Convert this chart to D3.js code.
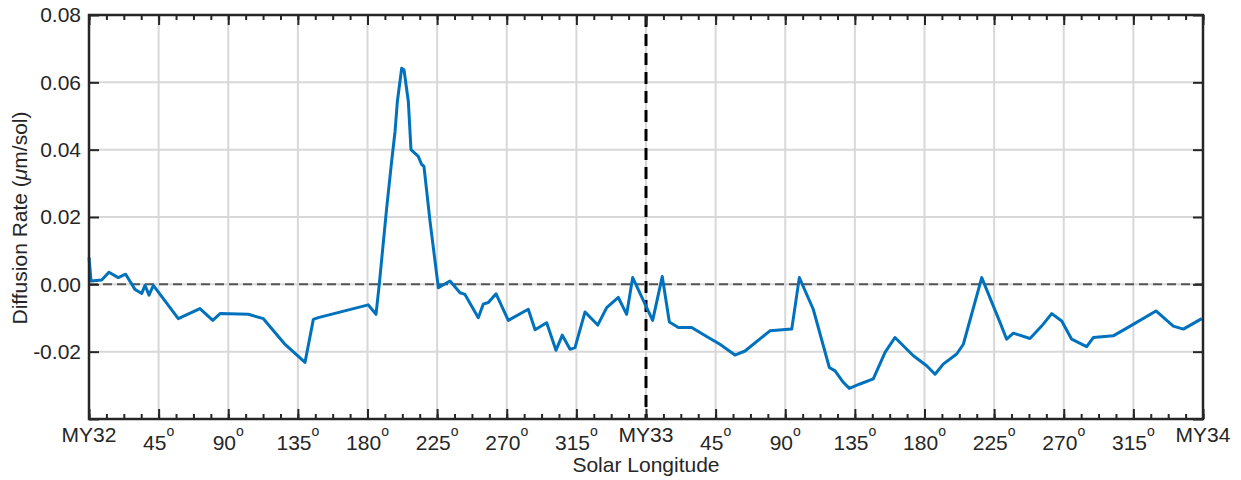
<!DOCTYPE html>
<html>
<head>
<meta charset="utf-8">
<script src="https://cdn.jsdelivr.net/npm/d3@7"></script>
<style>
body { margin: 0; background: #fff; }
text { font-family: "Liberation Sans", Arial, Helvetica, sans-serif; fill: #262626; }
</style>
</head>
<body>
<svg id="chart" width="1241" height="480"></svg>
<script>
// solar longitude, counted on from MY32 (0) through MY33 (360) to MY34 (720)
var ls = [0, 1.3, 8.2, 12.9, 18.9, 23.7, 29.7, 34.1, 36.2, 38.8, 41.6, 57.7, 71.7, 80.0, 84.7,
  103.0, 112.7, 126.2, 139.6, 145.0, 148.2, 180.5, 185.5, 187.6, 192.4, 195.6, 197.8, 199.3,
  202.1, 203.6, 206.4, 208.1, 212.8, 215.0, 216.5, 220.4, 225.8, 233.3, 239.8, 243.0, 251.6,
  254.8, 258.1, 263.1, 271.0, 283.9, 288.3, 295.8, 301.8, 305.9, 310.9, 314.1, 320.6, 328.8,
  334.6, 342.1, 347.5, 351.4, 364.3, 370.5, 375.1, 380.9, 389.5, 399.2, 407.8, 417.5, 424.0,
  440.1, 454.2, 459.1, 468.1, 478.5, 482.2, 487.5, 491.4, 498.3, 506.9, 514.5, 520.9, 532.8,
  541.4, 546.8, 552.1, 560.8, 565.1, 577.0, 588.8, 593.1, 597.4, 608.2, 615.7, 622.2, 628.7,
  635.1, 644.8, 649.1, 662.0, 674.9, 689.6, 700.8, 707.3, 712.7, 719.2];
// diffusion rate (um/sol)
var rate = [0.0080, 0.0010, 0.0013, 0.0036, 0.0020, 0.0030, -0.0015, -0.0027, -0.0003, -0.0032,
  -0.0003, -0.0102, -0.0072, -0.0107, -0.0087, -0.0089, -0.0102, -0.0176, -0.0232, -0.0104,
  -0.0099, -0.0061, -0.0089, 0.0000, 0.0227, 0.0365, 0.0454, 0.0543, 0.0642, 0.0637, 0.0543,
  0.0400, 0.0380, 0.0356, 0.0350, 0.0188, -0.0010, 0.0010, -0.0025, -0.0030, -0.0099, -0.0059,
  -0.0054, -0.0028, -0.0107, -0.0074, -0.0135, -0.0114, -0.0196, -0.0151, -0.0193, -0.0188,
  -0.0082, -0.0121, -0.0069, -0.0039, -0.0089, 0.0020, -0.0107, 0.0023, -0.0112, -0.0128,
  -0.0128, -0.0155, -0.0178, -0.0210, -0.0198, -0.0138, -0.0133, 0.0020, -0.0074, -0.0247,
  -0.0257, -0.0291, -0.0309, -0.0296, -0.0281, -0.0202, -0.0158, -0.0212, -0.0242, -0.0267,
  -0.0237, -0.0207, -0.0178, 0.0020, -0.0113, -0.0163, -0.0145, -0.0161, -0.0124, -0.0087,
  -0.0109, -0.0163, -0.0185, -0.0158, -0.0153, -0.0119, -0.0079, -0.0124, -0.0133, -0.0119,
  -0.0102];
var xTicks = [0, 45, 90, 135, 180, 225, 270, 315, 360, 405, 450, 495, 540, 585, 630, 675, 720];
var xMinor = d3.range(0, 721, 11.25);
var yearNames = ["MY32", "MY33", "MY34"];
var yTicks = [-0.04, -0.02, 0, 0.02, 0.04, 0.06, 0.08];
var yLabelTicks = [-0.02, 0, 0.02, 0.04, 0.06, 0.08];

var data = ls.map(function(d, i) { return {ls: d, rate: rate[i]}; });

// svg parameters
var svg = d3.select("#chart"),
  margin = {top: 15, right: 38, bottom: 61, left: 89},
  width = +svg.attr("width") - margin.left - margin.right,
  height = +svg.attr("height") - margin.top - margin.bottom;

var x = d3.scaleLinear().domain([0, 720]).range([0, width]),
  y = d3.scaleLinear().domain([-0.04, 0.08]).range([height, 0]);

var g = svg.append("g")
  .attr("transform", "translate(" + margin.left + "," + margin.top + ")");

// grid
g.append("g").selectAll("line")
  .data(xTicks.filter(function(d) { return d > 0 && d < 720; }))
  .enter().append("line")
  .attr("x1", function(d) { return x(d); }).attr("x2", function(d) { return x(d); })
  .attr("y1", 0).attr("y2", height)
  .attr("stroke", "#d8d8d8").attr("stroke-width", 2);
g.append("g").selectAll("line")
  .data(yTicks.filter(function(d) { return d > -0.04 && d < 0.08; }))
  .enter().append("line")
  .attr("x1", 0).attr("x2", width)
  .attr("y1", function(d) { return y(d); }).attr("y2", function(d) { return y(d); })
  .attr("stroke", "#d8d8d8").attr("stroke-width", 2);

// zero line and year boundary
g.append("line")
  .attr("x1", 0).attr("x2", width).attr("y1", y(0)).attr("y2", y(0))
  .attr("stroke", "#555").attr("stroke-width", 2).attr("stroke-dasharray", "9,5");
g.append("line")
  .attr("x1", x(360)).attr("x2", x(360)).attr("y1", 0).attr("y2", height)
  .attr("stroke", "#000").attr("stroke-width", 3).attr("stroke-dasharray", "12,7");

// data line
var line = d3.line()
  .x(function(d) { return x(d.ls); })
  .y(function(d) { return y(d.rate); });
g.append("path")
  .datum(data)
  .attr("d", line)
  .attr("fill", "none")
  .attr("stroke", "#0072BD")
  .attr("stroke-width", 3)
  .attr("stroke-linejoin", "round");

// ticks on all four sides, pointing inward
function styleAxis(sel) {
  sel.select(".domain").remove();
  sel.selectAll(".tick line").attr("stroke", "#262626").attr("stroke-width", 2);
  sel.selectAll(".tick text").remove();
}
g.append("g").attr("transform", "translate(0," + height + ")")
  .call(d3.axisBottom(x).tickValues(xMinor).tickSize(-5)).call(styleAxis);
g.append("g").attr("transform", "translate(0," + height + ")")
  .call(d3.axisBottom(x).tickValues(xTicks).tickSize(-10)).call(styleAxis);
g.append("g")
  .call(d3.axisTop(x).tickValues(xMinor).tickSize(-5)).call(styleAxis);
g.append("g")
  .call(d3.axisTop(x).tickValues(xTicks).tickSize(-10)).call(styleAxis);
g.append("g")
  .call(d3.axisLeft(y).tickValues(yTicks).tickSize(-10)).call(styleAxis);
g.append("g").attr("transform", "translate(" + width + ",0)")
  .call(d3.axisRight(y).tickValues(yTicks).tickSize(-10)).call(styleAxis);

// box
g.append("rect")
  .attr("width", width).attr("height", height)
  .attr("fill", "none").attr("stroke", "#262626").attr("stroke-width", 2.5);

// y tick labels (plain hyphen for the minus sign)
var fmt = d3.format(".2f");
g.selectAll(".ylab")
  .data(yLabelTicks)
  .enter().append("text")
  .attr("class", "ylab")
  .attr("x", -8)
  .attr("y", function(d) { return y(d); })
  .attr("dy", "0.35em")
  .attr("text-anchor", "end")
  .style("font-size", "21px")
  .text(function(d) { return fmt(d).replace("\u2212", "-"); });

// x tick labels
g.selectAll(".xlab")
  .data(xTicks)
  .enter().append("text")
  .attr("class", "xlab")
  .attr("x", function(d) { return x(d); })
  .attr("y", function(d) { return d % 360 === 0 ? height + 23 : height + 31; })
  .attr("text-anchor", "middle")
  .style("font-size", "21px")
  .each(function(d) {
    var t = d3.select(this);
    if (d % 360 === 0) {
      t.text(yearNames[d / 360]);
    } else {
      t.append("tspan").text(d % 360);
      t.append("tspan").attr("dy", -14).style("font-size", "14px").text("o");
    }
  });

// axis titles
svg.append("text")
  .attr("x", margin.left + width / 2)
  .attr("y", 472)
  .attr("text-anchor", "middle")
  .style("font-size", "21px")
  .text("Solar Longitude");

var ylab = svg.append("text")
  .attr("transform", "translate(27," + (margin.top + 203) + ") rotate(-90)")
  .attr("text-anchor", "middle")
  .style("font-size", "21px");
ylab.append("tspan").text("Diffusion Rate (");
ylab.append("tspan").style("font-style", "italic").text("\u03bc");
ylab.append("tspan").text("m/sol)");
</script>
</body>
</html>
